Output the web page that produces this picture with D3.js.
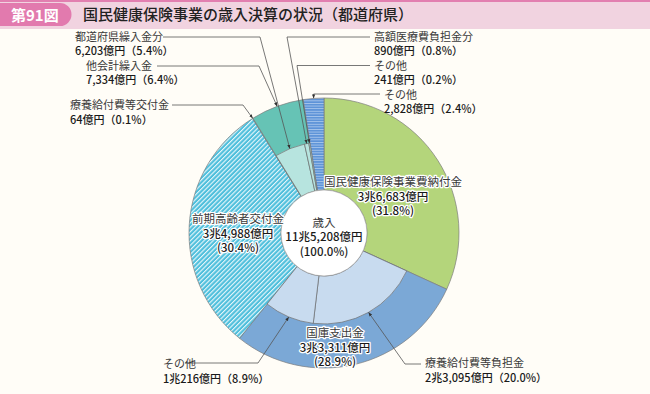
<!DOCTYPE html>
<html><head><meta charset="utf-8">
<script src="https://cdn.jsdelivr.net/npm/d3@7"></script>
<style>
html,body{margin:0;padding:0;background:#fffdf7;}
svg{display:block;font-family:"Noto Sans CJK JP","Noto Sans",sans-serif;}
</style></head>
<body><svg id="c" width="650" height="394"></svg>
<script>
// ---- data ----
const categories = ["国民健康保険事業費納付金","国庫支出金","前期高齢者交付金","療養給付費等交付金","他会計繰入金","その他"];
const values = [36683, 33311, 34988, 64, 7334, 2828];           // 億円
const percents = [31.8, 28.9, 30.4, 0.1, 6.4, 2.4];
const kokkoSubCategories = ["療養給付費等負担金","その他"];
const kokkoSubValues = [23095, 10216];
const kokkoSubPercents = [20.0, 8.9];
const takaikeiSubCategories = ["都道府県繰入金分","高額医療費負担金分","その他"];
const takaikeiSubValues = [6203, 890, 241];
const takaikeiSubPercents = [5.4, 0.8, 0.2];
const totalLabel = "歳入";
const totalPercent = 100.0;
const titleBadge = "第91図";
const titleText = "国民健康保険事業の歳入決算の状況（都道府県）";

// ---- helpers ----
const fmtNum = d3.format(",");
function yen(v){ return v >= 10000 ? `${Math.floor(v/10000)}兆${fmtNum(v%10000)}億円` : `${fmtNum(v)}億円`; }
function pct(p){ return `${d3.format(".1f")(p)}%`; }

const svg = d3.select("#c");
const defs = svg.append("defs");

// patterns
const p1 = defs.append("pattern").attr("id","hatchCyan").attr("patternUnits","userSpaceOnUse")
  .attr("width",3.2).attr("height",3.2).attr("patternTransform","rotate(45)");
p1.append("rect").attr("width",3.2).attr("height",3.2).attr("fill","#4fbfdc");
p1.append("rect").attr("width",1.1).attr("height",3.2).attr("fill","#e8f7fb");
const p2 = defs.append("pattern").attr("id","hatchBlue").attr("patternUnits","userSpaceOnUse")
  .attr("width",4).attr("height",2.6);
p2.append("rect").attr("width",4).attr("height",2.6).attr("fill","#5d93d8");
p2.append("rect").attr("width",4).attr("height",0.9).attr("fill","#a8c6ec");
defs.append("marker").attr("id","arr").attr("viewBox","0 0 10 10").attr("refX",10).attr("refY",5)
  .attr("markerWidth",5).attr("markerHeight",5).attr("orient","auto")
  .append("path").attr("d","M0,1L10,5L0,9Z").attr("fill","#333");

// ---- title ----
svg.append("rect").attr("x",0).attr("y",0).attr("width",650).attr("height",29).attr("fill","#f1d3e0");
svg.append("rect").attr("x",0).attr("y",0).attr("width",650).attr("height",2).attr("fill","#e27fb0");
svg.append("path").attr("d","M0,3H60A11.5,11.5 0 0 1 60,26H0Z").attr("fill","#e27aae");
svg.append("text").attr("x",11).attr("y",20.5).attr("fill","#fff").attr("font-size",15).attr("font-weight",700)
  .text(titleBadge);
svg.append("text").attr("x",83).attr("y",20).attr("fill","#222").attr("font-size",15).attr("font-weight",500)
  .text(titleText);

// ---- pie geometry ----
const cx = 324, cy = 233, R = 135, rMid = 91, rHole = 43;
const g = svg.append("g").attr("transform",`translate(${cx},${cy})`);
const pie = d3.pie().sort(null).value(d=>d).startAngle(0).endAngle(2*Math.PI);
const arcs = pie(values);
const fills = ["#b4d57b","#7ba8d6","url(#hatchCyan)","url(#hatchCyan)","#66c3b5","url(#hatchBlue)"];
const outerArc = d3.arc().innerRadius(rHole).outerRadius(R);
g.selectAll("path.main").data(arcs).join("path").attr("class","main")
  .attr("d",outerArc).attr("fill",(d,i)=>fills[i]).attr("stroke","#7d7d7d").attr("stroke-width",0.7);

function subArcs(parent, subVals){
  const s = d3.scaleLinear().domain([0, d3.sum(subVals)]).range([parent.startAngle, parent.endAngle]);
  let acc = 0;
  return subVals.map(v => { const a = {startAngle:s(acc), endAngle:s(acc+v), value:v}; acc += v; return a; });
}
const innerArc = d3.arc().innerRadius(rHole).outerRadius(rMid);
const kokkoArcs = subArcs(arcs[1], kokkoSubValues);
const takaArcs = subArcs(arcs[4], takaikeiSubValues);
g.selectAll("path.k").data(kokkoArcs).join("path").attr("class","k")
  .attr("d",innerArc).attr("fill","#c8dbef").attr("stroke","#6f6f6f").attr("stroke-width",0.7);
g.selectAll("path.t").data(takaArcs).join("path").attr("class","t")
  .attr("d",innerArc).attr("fill","#b7e4df").attr("stroke","#6f6f6f").attr("stroke-width",0.7);
g.append("circle").attr("r",rHole).attr("fill","#fff").attr("stroke","#9a9a9a").attr("stroke-width",0.6);

// ---- point on arc ----
function pt(a, r){ const m=(a.startAngle+a.endAngle)/2; return [cx + r*Math.sin(m), cy - r*Math.cos(m)]; }

// ---- leader lines ----
const leaders = [
  {tip: pt(takaArcs[0], rMid), pts:[[163,37],[260,37]]},
  {tip: pt(arcs[4], R), pts:[[157,66],[259,66]]},
  {tip: pt(arcs[3], R), pts:[[172,105],[243,105]]},
  {tip: pt(takaArcs[1], rMid), pts:[[370,37],[287,37]]},
  {tip: pt(takaArcs[2], rMid), pts:[[370,65.5],[297,65.5]]},
  {tip: pt(arcs[5], R), pts:[[380,94],[pt(arcs[5],R)[0],94]]},
  {tip: pt(kokkoArcs[1], rMid), pts:[[185,363],[258,363]]},
  {tip: pt(kokkoArcs[0], rMid), pts:[[421,364],[405,364]]}
];
svg.selectAll("path.ld").data(leaders).join("path").attr("class","ld")
  .attr("d",d=>d3.line()([...d.pts, d.tip])).attr("fill","none")
  .attr("stroke","#555").attr("stroke-width",0.8).attr("marker-end","url(#arr)");

// ---- labels (one text element per line) ----
function label(x, y, lines, anchor, halo, opts){
  opts = opts || {};
  lines.forEach((l,i)=>{
    const t = svg.append("text").attr("x",x).attr("y", y + i*(opts.dy||14.5)).attr("text-anchor",anchor||"start")
      .text(l.text)
      .attr("font-size", opts.size || 11)
      .attr("fill", l.name ? "#3a3a3a" : "#1a1a1a").attr("font-weight", l.name ? 400 : 500);
    if(halo){ t.attr("stroke","#fff").attr("stroke-width",2.5).attr("paint-order","stroke").attr("stroke-linejoin","round"); }
  });
}
const paren = p => `（${pct(p)}）`;
label(75, 40.5, [{text:takaikeiSubCategories[0],name:true},{text:yen(takaikeiSubValues[0])+paren(takaikeiSubPercents[0])}]);
label(86, 69.5, [{text:categories[4],name:true},{text:yen(values[4])+paren(percents[4])}]);
label(70, 109, [{text:categories[3],name:true},{text:yen(values[3])+paren(percents[3])}]);
label(374, 40.5, [{text:takaikeiSubCategories[1],name:true},{text:yen(takaikeiSubValues[1])+paren(takaikeiSubPercents[1])}]);
label(374, 69.5, [{text:takaikeiSubCategories[2],name:true},{text:yen(takaikeiSubValues[2])+paren(takaikeiSubPercents[2])}]);
label(384, 98.5, [{text:categories[5],name:true},{text:yen(values[5])+paren(percents[5])}]);
label(163, 368, [{text:kokkoSubCategories[1],name:true},{text:yen(kokkoSubValues[1])+paren(kokkoSubPercents[1])}]);
label(425, 367, [{text:kokkoSubCategories[0],name:true},{text:yen(kokkoSubValues[0])+paren(kokkoSubPercents[0])}]);
label(393, 186, [{text:categories[0],name:true},{text:yen(values[0])},{text:`(${pct(percents[0])})`}], "middle", true, {size:11.5});
label(238, 223, [{text:categories[2],name:true},{text:yen(values[2])},{text:`(${pct(percents[2])})`}], "middle", true, {size:11.5});
label(335, 337, [{text:categories[1],name:true},{text:yen(values[1])},{text:`(${pct(percents[1])})`}], "middle", true, {size:11.5});
label(cx, 226.5, [{text:totalLabel,name:true},{text:yen(d3.sum(values))},{text:`(${pct(totalPercent)})`}], "middle", false, {size:11.5});
</script></body></html>
